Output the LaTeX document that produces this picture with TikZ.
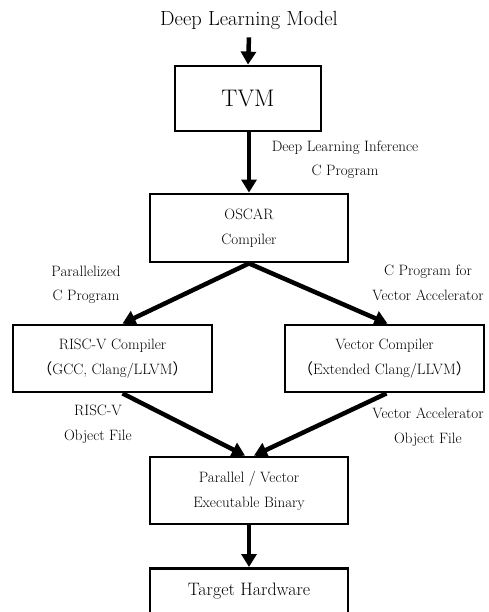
\documentclass[tikz,border=0pt]{standalone}
\usepackage{fontspec}
\newfontfamily\cjk{Noto Sans CJK JP}
\usetikzlibrary{arrows.meta}
\begin{document}
\begin{tikzpicture}[x=1pt,y=-1pt,
  box/.style={draw, line width=2.8pt, inner sep=0pt, align=center,
    font=\fontsize{15}{25}\selectfont},
  lbl/.style={align=center, inner sep=0pt, font=\fontsize{15}{24.5}\selectfont},
  arr/.style={line width=4.5pt, -{Triangle[length=13pt,width=15pt]}}
]
\useasboundingbox (0,0) rectangle (488,612);
\clip (0,0) rectangle (488,612);

\node[inner sep=0pt, font=\fontsize{20.5}{24}\selectfont] (dlm) at (249,20) {Deep Learning Model};
\node[box, minimum width=146pt, minimum height=65pt, font=\fontsize{24}{28}\selectfont] (tvm) at (248,98.5) {TVM};
\node[box, minimum width=198pt, minimum height=68pt] (oscar) at (249,228) {OSCAR\\Compiler};
\node[box, minimum width=199pt, minimum height=67pt] (risc) at (112.5,358.5) {RISC-V Compiler\\{\cjk （}GCC, Clang/LLVM{\cjk ）}};
\node[box, minimum width=199pt, minimum height=67pt] (vec) at (384.5,358.5) {Vector Compiler\\{\cjk （}Extended Clang/LLVM{\cjk ）}};
\node[box, minimum width=198pt, minimum height=67pt] (par) at (249,490.5) {Parallel / Vector\\Executable Binary};
\node[box, anchor=north, minimum width=198pt, inner ysep=14.5pt, text height=12.5pt, text depth=40pt,
  font=\fontsize{18}{22}\selectfont] (tgt) at (249,567) {Target Hardware};

\node[lbl] (l1) at (345,160) {Deep Learning Inference\\C Program};
\node[lbl] (l2) at (86,285) {Parallelized\\C Program};
\node[lbl] (l3) at (428,283) {C Program for\\Vector Accelerator};
\node[lbl] (l4) at (98,424.5) {RISC-V\\Object File};
\node[lbl] (l5) at (428,427) {Vector Accelerator\\Object File};

\draw[arr] ([yshift=-8pt]dlm.south) -- (tvm.north);
\draw[arr] ([xshift=1pt]tvm.south) -- (oscar.north);
\draw[arr] (oscar.south) -- ([xshift=10pt]risc.north);
\draw[arr] (oscar.south) -- ([xshift=3pt]vec.north);
\draw[arr] ([xshift=10pt]risc.south) -- ([xshift=-4pt]par.north);
\draw[arr] ([xshift=2pt]vec.south) -- ([xshift=5pt]par.north);
\draw[arr] (par.south) -- (tgt.north);
\end{tikzpicture}
\end{document}
